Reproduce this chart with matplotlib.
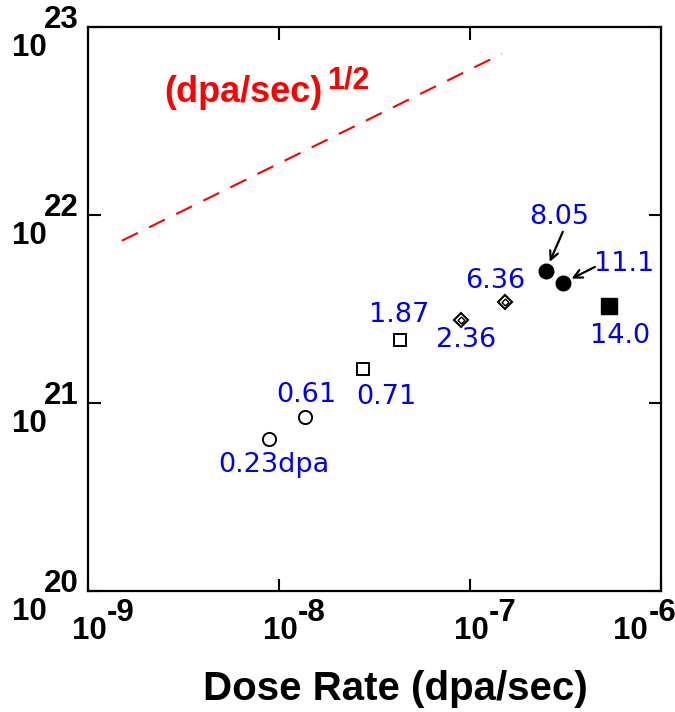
import numpy as np
import matplotlib.pyplot as plt
import matplotlib.transforms as mtransforms

plt.rcParams['font.family'] = ['Liberation Sans', 'DejaVu Sans']

# Datos
dose_rate = [8.9e-9, 1.38e-8, 2.75e-8, 4.3e-8, 9.0e-8, 1.52e-7, 2.5e-7, 3.07e-7, 5.35e-7]
density = [6.4e20, 8.4e20, 1.52e21, 2.16e21, 2.75e21, 3.45e21, 5.05e21, 4.35e21, 3.28e21]
dose_labels = ['0.23dpa', '0.61', '0.71', '1.87', '2.36', '6.36', '8.05', '11.1', '14.0']
groups = ['circle', 'circle', 'square', 'square', 'diamond', 'diamond', 'dot', 'dot', 'block']

# linea de referencia ~ (dpa/sec)^1/2
ref_x = np.array([1.51e-9, 1.47e-7])
ref_y = 7.3e21 * (ref_x / ref_x[0]) ** 0.5

x_ticks = [1e-9, 1e-8, 1e-7, 1e-6]
x_exps = ['-9', '-8', '-7', '-6']
y_ticks = [1e20, 1e21, 1e22, 1e23]
y_exps = ['20', '21', '22', '23']

fig = plt.figure(figsize=(6.75, 7.12), dpi=100)
ax = fig.add_axes([0.130, 0.170, 0.849, 0.792])
ax.set_xscale('log')
ax.set_yscale('log')
ax.set_xlim(1e-9, 1e-6)
ax.set_ylim(1e20, 1e23)

ax.plot(ref_x, ref_y, color='red', lw=1.5, dashes=(8.5, 6))
t1 = ax.text(0.134, 0.867, '(dpa/sec)', transform=ax.transAxes, color='red',
             fontsize=26, fontweight='bold', ha='left', va='baseline')
ax.annotate('1/2', xy=(1, 1), xycoords=t1, xytext=(3, 7), textcoords='offset points',
            color='red', fontsize=22, fontweight='bold', ha='left', va='top')

styles = {
    'circle': dict(marker='o', ms=9.5, mfc='white', mec='black', mew=1.4),
    'square': dict(marker='s', ms=9, mfc='white', mec='black', mew=1.4),
    'diamond': dict(marker='D', ms=7.5, mfc='white', mec='black', mew=1.5),
    'dot': dict(marker='o', ms=10.5, mfc='black', mec='black', mew=1),
    'block': dict(marker='s', ms=11, mfc='black', mec='black', mew=1),
}
for xv, yv, g in zip(dose_rate, density, groups):
    ax.plot([xv], [yv], ls='none', zorder=3, **styles[g])
    if g == 'diamond':
        ax.plot([xv], [yv], ls='none', marker='D', ms=3.5, mfc='white', mec='black', mew=1.0, zorder=4)

# posiciones de las etiquetas en pixeles respecto al punto
label_offsets = [(5, -26), (1, 22), (24, -28), (-1, 25), (5, -20), (-9, 21), (13, 54), (61, 19), (11, -30)]
for xv, yv, lab, off in zip(dose_rate, density, dose_labels, label_offsets):
    ax.annotate(lab, xy=(xv, yv), xytext=off, textcoords='offset pixels',
                ha='center', va='center', color='#0000ee', fontsize=19.5, family='DejaVu Sans')

arrow_starts = {6: (17, 39), 7: (32, 16)}
for i, start in arrow_starts.items():
    ax.annotate('', xy=(dose_rate[i], density[i]), xytext=start, textcoords='offset pixels',
                arrowprops=dict(arrowstyle='->,head_length=0.6,head_width=0.3', color='black',
                                lw=1.6, shrinkA=0, shrinkB=7))

ax.set_xticks(x_ticks)
ax.set_yticks(y_ticks)
ax.minorticks_off()
ax.set_xticklabels([])
ax.set_yticklabels([])
ax.tick_params(direction='in', length=9, width=1.5, top=True, right=True)
for sp in ax.spines.values():
    sp.set_linewidth(1.6)

# etiquetas de ticks: "10" y exponente del mismo tamano
x_shift = [0, 0, 0, -23]  # pt, el ultimo se corre para caber
tx = mtransforms.blended_transform_factory(ax.transData, ax.transAxes)
for xv, e, sh in zip(x_ticks, x_exps, x_shift):
    ax.annotate('10', xy=(xv, 0), xycoords=tx, xytext=(1 + sh, -29), textcoords='offset points',
                fontsize=22.5, fontweight='bold', ha='center', va='center')
    ax.annotate(e, xy=(xv, 0), xycoords=tx, xytext=(14 + sh, -16), textcoords='offset points',
                fontsize=22.5, fontweight='bold', ha='left', va='center')
ty = mtransforms.blended_transform_factory(ax.transAxes, ax.transData)
for yv, e in zip(y_ticks, y_exps):
    ax.annotate('10', xy=(0, yv), xycoords=ty, xytext=(-42, -15), textcoords='offset points',
                fontsize=22.5, fontweight='bold', ha='center', va='center')
    ax.annotate(e, xy=(0, yv), xycoords=ty, xytext=(-19, 5), textcoords='offset points',
                fontsize=22.5, fontweight='bold', ha='center', va='center')

ax.set_xlabel('Dose Rate (dpa/sec)', fontsize=29, fontweight='bold')
ax.xaxis.set_label_coords(0.536, -0.140)

fig.savefig('out.png', dpi=100)
